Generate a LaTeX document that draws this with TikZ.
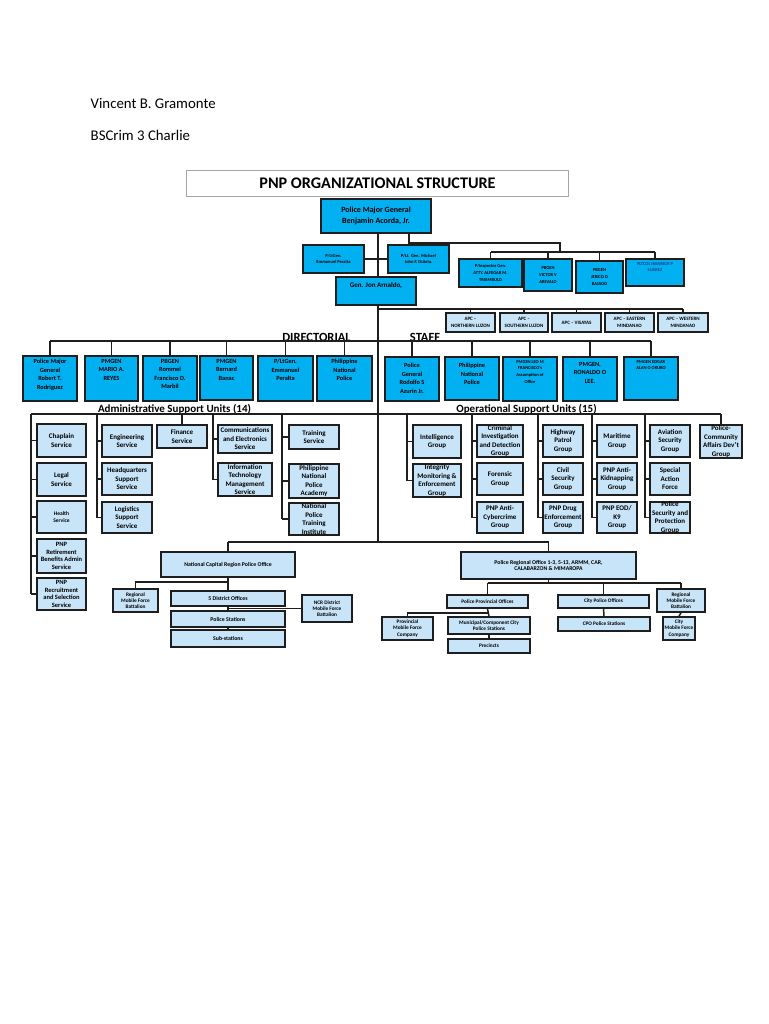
\documentclass[tikz,border=0pt]{standalone}
\usepackage{fontspec}
\setmainfont{Carlito}
\definecolor{cyanb}{RGB}{0,176,240}
\definecolor{lightb}{RGB}{200,228,248}
\definecolor{edge}{RGB}{30,30,30}
\definecolor{bluetext}{RGB}{20,60,140}
\tikzset{
 dk/.style={draw=edge, line width=1.6pt, fill=cyanb, inner sep=0pt},
 lt/.style={draw=edge, line width=1.6pt, fill=lightb, inner sep=0pt},
 conn/.style={draw=edge, line width=1.5pt},
 lbl/.style={inner sep=0pt, align=center},
 fTop/.style={font=\bfseries\fontsize{8}{11.5}\selectfont},
 fTiny/.style={font=\bfseries\fontsize{4.5}{6}\selectfont},
 fGen/.style={font=\bfseries\fontsize{7}{8}\selectfont},
 fT4/.style={font=\bfseries\fontsize{4.5}{6.6}\selectfont},
 fApc/.style={font=\bfseries\fontsize{5}{7}\selectfont},
 fD/.style={font=\bfseries\fontsize{6.3}{8.4}\selectfont},
 fDs/.style={font=\bfseries\fontsize{4.5}{6.6}\selectfont},
 fA/.style={font=\bfseries\fontsize{7}{8.5}\selectfont},
 fA2/.style={font=\bfseries\fontsize{6.5}{7.8}\selectfont},
 fH/.style={font=\bfseries\fontsize{5.5}{7.5}\selectfont},
 fL/.style={font=\bfseries\fontsize{5.8}{6.8}\selectfont},
 fLs/.style={font=\bfseries\fontsize{5.3}{6.2}\selectfont},
 hdtext/.style={font=\fontsize{14.8}{17}\selectfont, inner sep=0pt},
 sechd/.style={font=\bfseries\fontsize{12.5}{14}\selectfont, inner sep=0pt},
 subhd/.style={font=\bfseries\fontsize{11}{13}\selectfont, inner sep=0pt},
}
% centered box: name, boxstyle, fontstyle, l, t, r, b, text
\newcommand\bx[8]{%
 \pgfmathsetmacro\bxw{#6-#4}\pgfmathsetmacro\bxh{#7-#5}%
 \node[#2, minimum width=\bxw pt, minimum height=\bxh pt] (#1) at ({(#4+#6)/2},{(#5+#7)/2}) {};
 \node[lbl,#3] (#1-t) at (#1.center) {#8};}
% top-aligned box: name, boxstyle, fontstyle, l, t, r, b, offset, text
\newcommand\tbx[9]{%
 \pgfmathsetmacro\bxw{#6-#4}\pgfmathsetmacro\bxh{#7-#5}%
 \node[#2, minimum width=\bxw pt, minimum height=\bxh pt] (#1) at ({(#4+#6)/2},{(#5+#7)/2}) {};
 \node[lbl,#3,anchor=north] (#1-t) at ([yshift=-#8pt]#1.north) {#9};}
\begin{document}
\begin{tikzpicture}[x=1pt,y=-1pt]
\fill[white] (0,0) rectangle (768,1024);
\useasboundingbox (0,0) rectangle (768,1024);

\node[hdtext, anchor=west] (author) at (90.5,103) {Vincent B. Gramonte};
\node[hdtext, anchor=west] (course) at (90.5,135) {BSCrim 3 Charlie};

\node[draw=gray!70, line width=0.8pt, fill=white, minimum width=382pt, minimum height=26pt, inner sep=0pt] (title) at (377,183) {};
\node[font=\bfseries\fontsize{16.2}{18}\selectfont, inner sep=0pt] (title-t) at (377.5,183.5) {PNP ORGANIZATIONAL STRUCTURE};

% top level
\bx{a0}{dk}{fTop}{321}{199}{431}{233}{Police Major General\\Benjamin Acorda, Jr.}
\bx{pl1}{dk}{fTiny}{303}{245}{364}{273}{P/LtGen.\\Emmanuel Peralta}
\bx{dub}{dk}{fTiny}{388}{245}{449}{273}{P/Lt. Gen. Michael\\John F. Dubria.}
\tbx{gj}{dk}{fGen}{336}{277}{416}{305}{6.5}{Gen. Jon Arnaldo,}
\bx{t1}{dk}{fT4}{459}{259}{522}{287}{P/Inspector Gen.\\ATTY. ALFEGAR M.\\TRIAMBULO}
\bx{t2}{dk}{fT4}{524}{259}{572}{291}{PBGEN\\VICTOR V\\AREVALO}
\bx{t3}{dk}{fT4}{576}{261}{623}{293}{PBGEN\\JERICO O\\BAJADO}
\tbx{t4}{dk}{fT4,text=bluetext}{626}{259}{684}{286}{4}{PLTCOL HEINRICH P\\SUAREZ}

% APC
\bx{apc1}{lt}{fApc}{446}{313}{495}{332}{APC –\\NORTHERN LUZON}
\bx{apc2}{lt}{fApc}{500}{313}{548}{332}{APC –\\SOUTHERN LUZON}
\bx{apc3}{lt}{fApc}{552}{313}{601}{332}{APC – VISAYAS}
\bx{apc4}{lt}{fApc}{605}{313}{654}{332}{APC – EASTERN\\MINDANAO}
\bx{apc5}{lt}{fApc}{658}{313}{708}{332}{APC – WESTERN\\MINDANAO}

\node[sechd, anchor=base] (dirl) at (316.5,341) {DIRECTORIAL};
\node[sechd, anchor=base] (stfl) at (425,341) {STAFF};

% directorial
\tbx{d1}{dk}{fD}{23}{356}{77}{401}{4}{Police Major\\General\\Robert T.\\Rodriguez}
\tbx{d2}{dk}{fD}{85}{356}{138}{401}{4}{PMGEN\\MARIO A.\\REYES}
\tbx{d3}{dk}{fD}{143}{356}{197}{401}{4}{PBGEN\\Rommel\\Francisco D.\\Marbil}
\tbx{d4}{dk}{fD}{200}{356}{253}{400}{4}{PMGEN\\Bernard\\Banac}
\tbx{d5}{dk}{fD}{258}{356}{313}{401}{4}{P/LtGen.\\Emmanuel\\Peralta}
\tbx{d6}{dk}{fD}{317}{356}{372}{401}{4}{Philippine\\National\\Police}
% staff
\tbx{s1}{dk}{fD}{385}{357}{439}{401}{7}{Police\\General\\Rodolfo S\\Azurin Jr.}
\tbx{s2}{dk}{fD}{445}{357}{499}{400}{7}{Philippine\\National\\Police}
\tbx{s3}{dk}{fDs}{503}{357}{557}{401}{4}{PMGEN LEO M\\FRANCISCO's\\Assumption of\\Office}
\tbx{s4}{dk}{fD}{563}{357}{617}{401}{6}{PMGEN,\\RONALDO O\\LEE.}
\tbx{s5}{dk}{fDs}{624}{357}{678}{400}{4}{PMGEN EDGAR\\ALAN O OKUBO}

\node[subhd, anchor=base] (adml) at (174.5,412) {Administrative Support Units (14)};
\node[subhd, anchor=base] (opl) at (526.5,412) {Operational Support Units (15)};

% administrative support units
\bx{chap}{lt}{fA}{37}{424}{86}{457}{Chaplain\\Service}
\bx{legal}{lt}{fA}{37}{463}{86}{496}{Legal\\Service}
\bx{health}{lt}{fH}{37}{501}{86}{533}{Health\\Service}
\bx{retire}{lt}{fA2}{37}{539}{86}{573}{PNP\\Retirement\\Benefits Admin\\Service}
\bx{recruit}{lt}{fA2}{37}{578}{86}{610}{PNP\\Recruitment\\and Selection\\Service}
\bx{eng}{lt}{fA}{102}{425}{152}{457}{Engineering\\Service}
\bx{hq}{lt}{fA}{102}{463}{152}{495}{Headquarters\\Support\\Service}
\bx{log}{lt}{fA}{102}{502}{152}{533}{Logistics\\Support\\Service}
\bx{fin}{lt}{fA}{157}{425}{207}{448}{Finance\\Service}
\bx{comm}{lt}{fA}{218}{425}{272}{453}{Communications\\and Electronics\\Service}
\bx{itms}{lt}{fA}{218}{463}{272}{496}{Information\\Technology\\Management\\Service}
\bx{train}{lt}{fA}{289}{425}{339}{449}{Training\\Service}
\bx{pnpa}{lt}{fA}{289}{464}{339}{498}{Philippine\\National\\Police\\Academy}
\bx{npti}{lt}{fA}{289}{503}{339}{535}{National\\Police\\Training\\Institute}

% operational support units
\bx{intel}{lt}{fA}{413}{425}{461}{458}{Intelligence\\Group}
\bx{imeg}{lt}{fA}{413}{464}{461}{497}{Integrity\\Monitoring \&\\Enforcement\\Group}
\bx{cidg}{lt}{fA}{477}{425}{523}{457}{Criminal\\Investigation\\and Detection\\Group}
\bx{foren}{lt}{fA}{477}{463}{523}{495}{Forensic\\Group}
\bx{acg}{lt}{fA}{477}{502}{523}{533}{PNP Anti-\\Cybercrime\\Group}
\bx{hpg}{lt}{fA}{543}{425}{583}{457}{Highway\\Patrol\\Group}
\bx{csg}{lt}{fA}{543}{463}{583}{495}{Civil\\Security\\Group}
\bx{pdeg}{lt}{fA}{543}{502}{583}{533}{PNP Drug\\Enforcement\\Group}
\bx{mar}{lt}{fA}{597}{425}{637}{457}{Maritime\\Group}
\bx{akg}{lt}{fA}{597}{463}{637}{495}{PNP Anti-\\Kidnapping\\Group}
\bx{eod}{lt}{fA}{597}{502}{637}{533}{PNP EOD/\\K9\\Group}
\bx{avsg}{lt}{fA}{650}{425}{690}{457}{Aviation\\Security\\Group}
\bx{saf}{lt}{fA}{650}{463}{690}{495}{Special\\Action\\Force}
\bx{psp}{lt}{fA}{650}{502}{690}{533}{Police\\Security and\\Protection\\Group}
\bx{pcadg}{lt}{fA}{700}{425}{742}{458}{Police-\\Community\\Affairs Dev't\\Group}

% NCR
\bx{ncr}{lt}{fL}{161}{552}{295}{577}{National Capital Region Police Office}
\bx{rmfb1}{lt}{fLs}{113}{589}{158}{612}{Regional\\Mobile Force\\Battalion}
\bx{dist5}{lt}{fL}{171}{591}{285}{606}{5 District Offices}
\bx{ncrd}{lt}{fLs}{302}{595}{352}{622}{NCR District\\Mobile Force\\Battalion}
\bx{pstat}{lt}{fL}{171}{611}{285}{627}{Police Stations}
\bx{sub}{lt}{fL}{171}{630}{285}{647}{Sub-stations}

% regional
\bx{pro}{lt}{fL}{461}{552}{636}{579}{Police Regional Office 1-3, 5-13, ARMM, CAR,\\CALABARZON \& MIMAROPA}
\bx{ppo}{lt}{fLs}{447}{595}{528}{608}{Police Provincial Offices}
\bx{cpo}{lt}{fLs}{558}{595}{649}{608}{City Police Offices}
\bx{rmfb2}{lt}{fLs}{657}{589}{705}{612}{Regional\\Mobile Force\\Battalion}
\bx{pmfc}{lt}{fLs}{382}{617}{433}{640}{Provincial\\Mobile Force\\Company}
\bx{mun}{lt}{fLs}{448}{617}{530}{634}{Municipal/Component City\\Police Stations}
\bx{prec}{lt}{fLs}{448}{639}{530}{653}{Precincts}
\bx{cpops}{lt}{fLs}{558}{617}{650}{631}{CPO Police Stations}
\bx{cmfc}{lt}{fLs}{663}{617}{695}{640}{City\\Mobile Force\\Company}

% junction coordinates
\coordinate (spine) at (378,0);
\coordinate (j1) at (409,243);
\coordinate (j2) at (560,252);
\coordinate (bapc) at (0,309);
\coordinate (bdir) at (0,341);
\coordinate (bunit) at (0,414);
\coordinate (breg) at (0,542);
\coordinate (cA) at (31,0);
\coordinate (cB) at (97,0);
\coordinate (cD) at (213,0);
\coordinate (cE) at (282,0);
\coordinate (o1) at (407,0);
\coordinate (o2) at (472,0);
\coordinate (o3) at (538,0);
\coordinate (o4) at (592,0);
\coordinate (o5) at (645,0);
\coordinate (jn) at (0,582);
\coordinate (jr) at (0,583);
\coordinate (jp) at (0,613);

% connectors
\draw[conn] (a0.south -| spine) -- (gj.north -| spine);
\draw[conn] (pl1.east) -- (dub.west);
\draw[conn] (a0.south -| j1) -- (j1) -| (j2);
\draw[conn] (t1.north |- j2) -- (t4.north |- j2);
\foreach \n in {t1,t2,t3,t4} \draw[conn] (\n.north) -- (\n.north |- j2);
\draw[conn] (gj.south -| spine) -- (spine |- breg);
\draw[conn] (spine |- bapc) -- (apc5.north |- bapc);
\foreach \n in {apc1,apc2,apc3,apc4,apc5} \draw[conn] (\n.north) -- (\n.north |- bapc);
\draw[conn] (d1.north |- bdir) -- (s5.north |- bdir);
\foreach \n in {d1,d2,d3,d4,d5,d6,s1,s2,s3,s4,s5} \draw[conn] (\n.north) -- (\n.north |- bdir);
\draw[conn] (cA |- bunit) -- (pcadg.north |- bunit);
\draw[conn] (cA |- bunit) -- (cA |- recruit.west);
\foreach \n in {chap,legal,health,retire,recruit} \draw[conn] (cA |- \n.west) -- (\n.west);
\draw[conn] (cB |- bunit) -- (cB |- log.west);
\foreach \n in {eng,hq,log} \draw[conn] (cB |- \n.west) -- (\n.west);
\draw[conn] (fin.north) -- (fin.north |- bunit);
\draw[conn] (cD |- bunit) -- (cD |- itms.west);
\foreach \n in {comm,itms} \draw[conn] (cD |- \n.west) -- (\n.west);
\draw[conn] (cE |- bunit) -- (cE |- npti.west);
\foreach \n in {train,pnpa,npti} \draw[conn] (cE |- \n.west) -- (\n.west);
\draw[conn] (o1 |- bunit) -- (o1 |- imeg.west);
\foreach \n in {intel,imeg} \draw[conn] (o1 |- \n.west) -- (\n.west);
\draw[conn] (o2 |- bunit) -- (o2 |- acg.west);
\foreach \n in {cidg,foren,acg} \draw[conn] (o2 |- \n.west) -- (\n.west);
\draw[conn] (o3 |- bunit) -- (o3 |- pdeg.west);
\foreach \n in {hpg,csg,pdeg} \draw[conn] (o3 |- \n.west) -- (\n.west);
\draw[conn] (o4 |- bunit) -- (o4 |- eod.west);
\foreach \n in {mar,akg,eod} \draw[conn] (o4 |- \n.west) -- (\n.west);
\draw[conn] (o5 |- bunit) -- (o5 |- psp.west);
\foreach \n in {avsg,saf,psp} \draw[conn] (o5 |- \n.west) -- (\n.west);
\draw[conn] (pcadg.north) -- (pcadg.north |- bunit);
% regional
\draw[conn] (ncr.north |- breg) -- (pro.north |- breg);
\draw[conn] (ncr.north) -- (ncr.north |- breg);
\draw[conn] (pro.north) -- (pro.north |- breg);
\draw[conn] (ncr.south) -- (dist5.north);
\draw[conn] (ncr.south |- jn) -| (rmfb1.north);
\draw[conn] (dist5.south) -- (pstat.north);
\draw[conn] (pstat.south) -- (sub.north);
\draw[conn] (dist5.south |- ncrd.west) -- (ncrd.west);
\draw[conn] (pro.south) -- (pro.south |- jr);
\draw[conn] (ppo.north |- jr) -- (rmfb2.north |- jr);
\foreach \n in {ppo,cpo,rmfb2} \draw[conn] (\n.north) -- (\n.north |- jr);
\draw[conn] (ppo.south) -- (mun.north);
\draw[conn] (ppo.south |- jp) -| (pmfc.north);
\draw[conn] (mun.south) -- (prec.north);
\draw[conn] (cpo.south) -- (cpops.north);
\draw[conn] (rmfb2.south) -- (cmfc.north);
\end{tikzpicture}
\end{document}
